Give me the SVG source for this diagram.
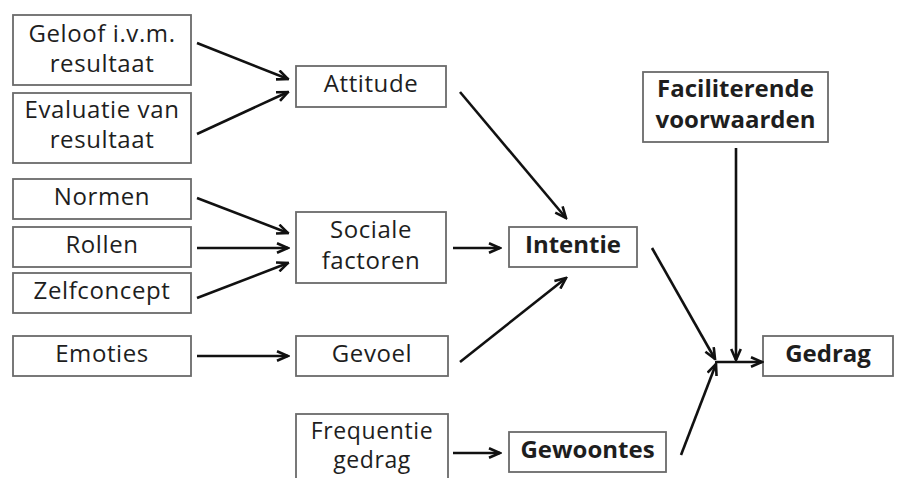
<svg xmlns="http://www.w3.org/2000/svg" width="906" height="478" viewBox="0 0 906 478">
<style>
.box{fill:#fff;stroke:#6a6a6a;stroke-width:1.8}
.t{font-family:"Open Sans","DejaVu Sans",sans-serif;font-size:24px;fill:#1e1e1e;text-anchor:middle;letter-spacing:0.6px}
.b{font-weight:bold;letter-spacing:0}
.c{stroke:#111;stroke-width:2.6;fill:none;marker-end:url(#ah)}
</style>
<defs>
<marker id="ah" viewBox="0 0 14 12" refX="12.5" refY="6" markerWidth="14" markerHeight="12" orient="auto" markerUnits="userSpaceOnUse">
<path d="M1.5,1.2 L12.5,6 L1.5,10.8" fill="none" stroke="#111" stroke-width="2.6" stroke-linejoin="miter"/>
</marker>
</defs>
<rect width="906" height="478" fill="#fff"/>
<g id="geloof"><rect class="box" x="13" y="15" width="178" height="70"/><text class="t" x="102" y="42">Geloof i.v.m.</text><text class="t" x="102" y="72">resultaat</text></g>
<g id="evaluatie"><rect class="box" x="13" y="93" width="178" height="70"/><text class="t" x="102" y="118">Evaluatie van</text><text class="t" x="102" y="148">resultaat</text></g>
<g id="normen"><rect class="box" x="13" y="179" width="178" height="40"/><text class="t" x="102" y="205">Normen</text></g>
<g id="rollen"><rect class="box" x="13" y="227" width="178" height="40"/><text class="t" x="102" y="253">Rollen</text></g>
<g id="zelfconcept"><rect class="box" x="13" y="273" width="178" height="40"/><text class="t" x="102" y="299">Zelfconcept</text></g>
<g id="emoties"><rect class="box" x="13" y="336" width="178" height="40"/><text class="t" x="102" y="362">Emoties</text></g>
<g id="attitude"><rect class="box" x="296" y="66" width="150" height="41"/><text class="t" x="371" y="92">Attitude</text></g>
<g id="sociale"><rect class="box" x="296" y="212" width="150" height="71"/><text class="t" x="371" y="238">Sociale</text><text class="t" x="371" y="269">factoren</text></g>
<g id="gevoel"><rect class="box" x="296" y="336" width="152" height="40"/><text class="t" x="372" y="362">Gevoel</text></g>
<g id="frequentie"><rect class="box" x="296" y="414" width="152" height="72"/><text class="t" x="372" y="439" style="font-size:23px">Frequentie</text><text class="t" x="372" y="468" style="font-size:23px">gedrag</text></g>
<g id="intentie"><rect class="box" x="509" y="227" width="128" height="40"/><text class="t b" x="573" y="253">Intentie</text></g>
<g id="gewoontes"><rect class="box" x="509" y="432" width="157" height="40"/><text class="t b" x="587.5" y="458">Gewoontes</text></g>
<g id="faciliterende"><rect class="box" x="643" y="72" width="185" height="70"/><text class="t b" x="735.5" y="97">Faciliterende</text><text class="t b" x="735.5" y="128">voorwaarden</text></g>
<g id="gedrag"><rect class="box" x="763" y="336" width="130" height="40"/><text class="t b" x="828" y="362">Gedrag</text></g>
<g id="connectors">
<line class="c" x1="197" y1="43" x2="288" y2="79"/>
<line class="c" x1="197" y1="134" x2="288" y2="92"/>
<line class="c" x1="197" y1="198" x2="288" y2="233"/>
<line class="c" x1="197" y1="248" x2="288" y2="248"/>
<line class="c" x1="197" y1="298" x2="288" y2="263"/>
<line class="c" x1="197" y1="356" x2="288" y2="356"/>
<line class="c" x1="460" y1="92" x2="566" y2="218"/>
<line class="c" x1="453" y1="248" x2="500" y2="248"/>
<line class="c" x1="460" y1="362" x2="566" y2="278"/>
<line class="c" x1="453" y1="453" x2="500" y2="453"/>
<line class="c" x1="652" y1="248" x2="715" y2="359"/>
<line class="c" x1="736" y1="148" x2="736" y2="360"/>
<line class="c" x1="681" y1="455" x2="716" y2="364"/>
<line class="c" x1="715" y1="362" x2="762" y2="362"/>
</g>
</svg>
